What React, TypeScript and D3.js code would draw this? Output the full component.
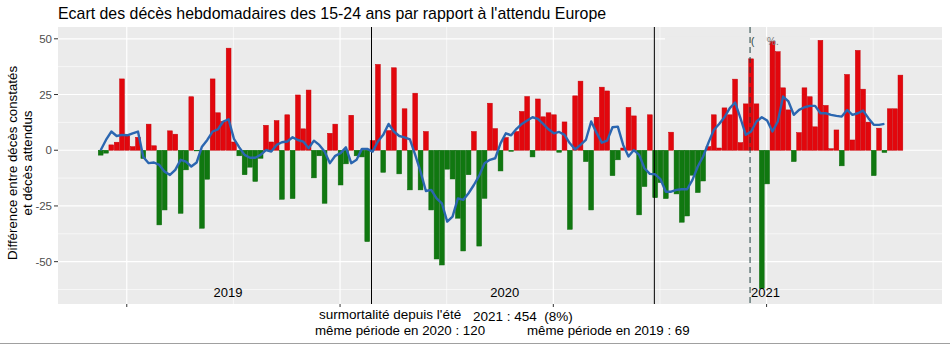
import React from "react";
import * as d3 from "d3";

// Weekly excess deaths (observed - expected), 15-24 year olds, Europe
const excess2019 = [
  -2.2, -1.3, 2.4, 3.6, 32, 6.4, 1.6, 5.8, -3.7, 11.7, 2, -33.5, -26.8, 8.7, 7.2, -28.3, -8.8, 24, -0.3, -35,
  -13, 32, 16.8, 12.9, 45.8, 3.7, -2.5, -11, -7.6, -14, -3.6, 11.2, 3.7, 13.3, -22, 15.9, -21.7, 24.8, 9.6, 27,
  -12.4, -2.5, -23.8, 7.6, 11.7, -15.6, -6.1, 15.7, -2.5, -3, -41,
];
const excess2020 = [
  4.3, 38.5, -9.9, 8.8, 37, -10.6, 18.6, -17.8, 25.6, -17.8, 8.4, -26.8, -48.8, -51.5, -8.5, -12.9, -30.5, -45.2,
  -11, 8.4, -43, -21.6, 21.1, 9.7, -9.3, 5.7, -0.5, 8.4, 17.4, 24.1, -3, 23, 15, 16.8, 15.9, -0.9, 12.7, -35.5,
  24.4, 31, -5.1, -26.8, 14.8, 28.3, 26.6, -11.4, -4.3, 1, 19.2, 15.4, -29, -16.3, 15.9,
];
const excess2021 = [
  -21.3, -14.5, -21.7, 8.1, -19.6, -32.3, -29.5, -11.2, -19, -13.8, 1.6, 15.9, 1, 19, 15.9, 31.9, 3.4, 20.8, 41,
  20.8, -62, -15.1, 48.8, 44.2, 28, 18.1, -5.1, 7.9, 28, 24, 10.5, 49.3, 20.1, 0.7, 9.1, -7, 34, 4.6, 44.8, 27.4,
  12.6, -11.4, 9.9, -1, 18.6, 18.6, 33.7,
];
// Smoothed trend (blue line)
const trend = [
  0, 4.6, 8.4, 6.4, 6.9, 6.7, 7.6, 8.4, -3, -5.8, -5.5, -6.6, -9.6, -11.1, -8.8, -4.3, -5.1, -7.3, -5.5, 1.6,
  4.6, 8.4, 9.4, 12.9, 13.9, 5.1, 1.3, -2.1, -3.4, -3.4, -2.1, 0.1, -0.6, 2.4, 3.6, 3.9, 5.8, 4.6, 3.9, 0.9,
  4.3, 2.4, -0.6, -5.8, -2.5, -1.3, 1.3, -5.8, -4.3, 0.6, 0.6, -0.6, 3.9, 6.9, 11.8, 8.4, 6.4, 5.8, 4.9, -2.1,
  -9.6, -18.3, -17.8, -21.6, -23.8, -32, -29.8, -21.6, -22.3, -19.3, -15.6, -11.4, -5.8, -4.3, -3.6, 3.1, 7.6,
  6.7, 9.6, 11.8, 13.3, 14.8, 14.1, 11.8, 9.4, 7.6, 8.2, 6.9, 3.1, 0.4, 2.4, 4.6, 12.9, 7.9, 3.4, 4.3, 10.3,
  10.6, 2.4, -2.8, 0.1, -2.1, -8.1, -10.6, -10.8, -13, -18.6, -18.6, -17.8, -17.5, -17.5, -13.3, -7.3, -2.8,
  3.4, 9.1, 11.8, 14.8, 18.9, 21.4, 14.4, 6.9, 8.4, 12.9, 14.8, 13.3, 8.4, 12.9, 24.1, 21.9, 15.9, 18.1, 19.3,
  19.9, 19.9, 16.6, 16.6, 15.9, 15.4, 15.1, 18.1, 15.9, 16.6, 17.8, 14.4, 11.4, 11.4, 11.8,
];
const yTicks = [-50, -25, 0, 25, 50];
const yMinor = [-62.5, -37.5, -12.5, 12.5, 37.5];
const years = ["2019", "2020", "2021"];

const title = "Ecart des décès hebdomadaires des 15-24 ans par rapport à l'attendu Europe";
const yTitle1 = "Différence entre décès constatés";
const yTitle2 = "et décès attendus";
const note1a = "surmortalité depuis l'été";
const note1b = "2021 : 454\u00a0\u00a0(8%)";
const note2a = "même période en 2020 : 120";
const note2b = "même période en 2019 : 69";

export default function App() {
  const W = 950, H = 345;
  const panel = { left: 58, right: 942, top: 27, bottom: 304 };
  const values = [...excess2019, ...excess2020, ...excess2021];
  const n2019 = excess2019.length;
  const n2020 = excess2020.length;

  const x = d3.scaleLinear().domain([-8, 157.8]).range([panel.left, panel.right]);
  const y = d3.scaleLinear().domain([-69, 55.3]).range([panel.bottom, panel.top]);
  const bw = (x(1) - x(0)) * 0.9;

  const majorX = [4.9, 44.9, 84.9, 124.9];
  const minorX = [24.9, 64.9, 104.9, 144.9];
  const yearBreaks = [n2019 - 0.2, n2019 + n2020 - 0.15];
  const yearPos = [23.9, 75.8, 124.7];
  const dashedAt = 121.8;

  const line = d3
    .line<number>()
    .x((_, i) => x(i))
    .y((d) => y(d))
    .curve(d3.curveLinear);

  const font = "'Liberation Sans', Arial, sans-serif";

  return (
    <svg
      width={W}
      height={H}
      style={{ position: "absolute", left: 0, top: 0, background: "#fff" }}
      fontFamily={font}
    >
      <rect x={0} y={0} width={W} height={H} fill="#fff" />
      <text x={58} y={19} fontSize={15.9} fill="#000">{title}</text>

      <rect
        x={panel.left}
        y={panel.top}
        width={panel.right - panel.left}
        height={panel.bottom - panel.top}
        fill="#EBEBEB"
      />
      {yMinor.map((t) => (
        <line key={"ym" + t} x1={panel.left} x2={panel.right} y1={y(t)} y2={y(t)} stroke="#fff" strokeWidth={0.6} />
      ))}
      {minorX.map((t) => (
        <line key={"xm" + t} x1={x(t)} x2={x(t)} y1={panel.top} y2={panel.bottom} stroke="#fff" strokeWidth={0.6} />
      ))}
      {yTicks.map((t) => (
        <line key={"yM" + t} x1={panel.left} x2={panel.right} y1={y(t)} y2={y(t)} stroke="#fff" strokeWidth={1.2} />
      ))}
      {majorX.map((t) => (
        <line key={"xM" + t} x1={x(t)} x2={x(t)} y1={panel.top} y2={panel.bottom} stroke="#fff" strokeWidth={1.2} />
      ))}
      <rect x={665} y={y(50) - 2} width={145} height={4} fill="#EBEBEB" />

      {values.map((v, i) => (
        <rect
          key={"b" + i}
          x={x(i) - bw / 2}
          width={bw}
          y={v >= 0 ? y(v) : y(0)}
          height={Math.abs(y(v) - y(0))}
          fill={v >= 0 ? "#E2070D" : "#107810"}
          stroke={v >= 0 ? "#C80008" : "#0C6A0C"}
          strokeWidth={0.5}
        />
      ))}

      {yearBreaks.map((t) => (
        <line key={"yb" + t} x1={x(t)} x2={x(t)} y1={panel.top} y2={panel.bottom} stroke="#000" strokeWidth={1} />
      ))}
      <line
        x1={x(dashedAt)}
        x2={x(dashedAt)}
        y1={panel.top}
        y2={panel.bottom}
        stroke="#1F4040"
        strokeWidth={1}
        strokeDasharray="6,4"
      />
      <text x={x(dashedAt) + 1} y={45} fontSize={10} fill="#1F4040">(</text>
      <text x={x(dashedAt) + 17} y={45} fontSize={10} fill="#777">%.</text>

      <path d={line(trend) || ""} fill="none" stroke="#2B66B0" strokeWidth={2.4} strokeLinejoin="round" />

      {years.map((yr, i) => (
        <text key={yr} x={x(yearPos[i])} y={297} fontSize={13} textAnchor="middle" fill="#000">
          {yr}
        </text>
      ))}

      {yTicks.map((t) => (
        <g key={"yt" + t}>
          <line x1={panel.left - 4} x2={panel.left} y1={y(t)} y2={y(t)} stroke="#333" strokeWidth={1} />
          <text x={panel.left - 6} y={y(t) + 4} fontSize={11.5} textAnchor="end" fill="#4D4D4D">
            {t}
          </text>
        </g>
      ))}
      {majorX.map((t) => (
        <line key={"xt" + t} x1={x(t)} x2={x(t)} y1={panel.bottom} y2={panel.bottom + 3} stroke="#333" strokeWidth={1} />
      ))}

      <text transform={`translate(17,163) rotate(-90)`} fontSize={13.3} textAnchor="middle" fill="#000">
        {yTitle1}
      </text>
      <text transform={`translate(32,163) rotate(-90)`} fontSize={13.3} textAnchor="middle" fill="#000">
        {yTitle2}
      </text>

      <text x={319} y={319} fontSize={13.5} fill="#000">{note1a}</text>
      <text x={473} y={321} fontSize={13.5} fill="#000">{note1b}</text>
      <text x={315} y={335} fontSize={13.3} fill="#000">{note2a}</text>
      <text x={527} y={335} fontSize={13.3} fill="#000">{note2b}</text>

      <line x1={0} x2={W} y1={343.5} y2={343.5} stroke="#A0A0A0" strokeWidth={1} />
    </svg>
  );
}
